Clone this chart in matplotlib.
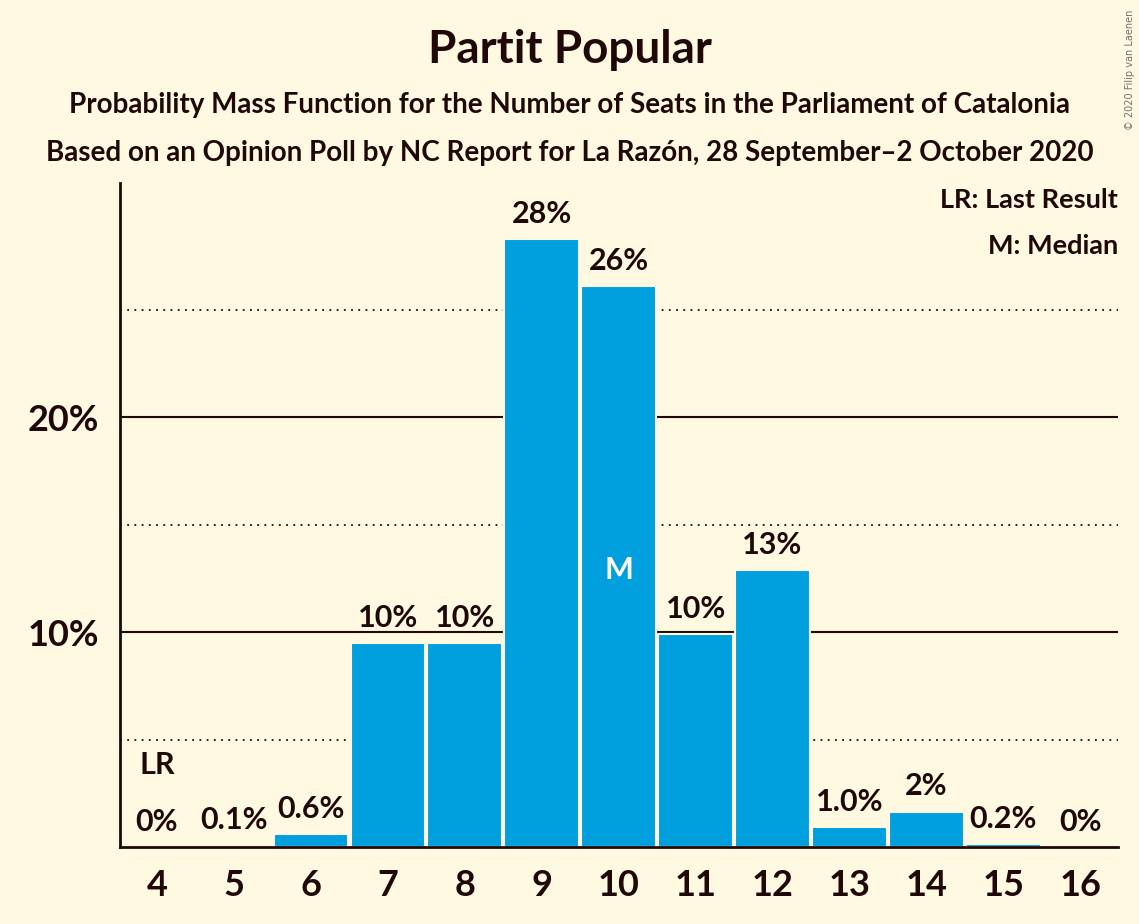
import matplotlib
matplotlib.use("Agg")
import matplotlib.pyplot as plt

seats = [4, 5, 6, 7, 8, 9, 10, 11, 12, 13, 14, 15, 16]
probs = [0.0, 0.1, 0.6, 9.5, 9.5, 28.3, 26.1, 9.9, 12.9, 0.95, 1.65, 0.15, 0.0]
labels = ["0%", "0.1%", "0.6%", "10%", "10%", "28%", "26%", "10%", "13%", "1.0%", "2%", "0.2%", "0%"]
yticks = [10, 20]
ytick_labels = ["10%", "20%"]
last_result = 4
median = 10

BG = "#FFF9E1"
BAR = "#00A0DF"
TXT = "#200808"

plt.rcParams['font.family'] = ['Lato', 'DejaVu Sans']
plt.rcParams['font.weight'] = 'bold'

fig = plt.figure(figsize=(11.39, 9.24), dpi=100, facecolor=BG)
ax = fig.add_axes([0.1054, 0.0833, 0.8762, 0.7187], facecolor=BG)

for y in [5, 15, 25]:
    ax.axhline(y, color=TXT, lw=1.3, ls=(0, (1, 3)), zorder=1)
for y in yticks:
    ax.axhline(y, color=TXT, lw=1.5, zorder=1)

ax.bar(seats, probs, width=0.97, color=BAR, edgecolor=BG, linewidth=1.5, zorder=2)

for s, p, l in zip(seats, probs, labels):
    ax.annotate(l, (s, p), xytext=(0, 8), textcoords='offset points',
                ha='center', va='bottom', fontsize=22, color=TXT, fontweight='bold')

ax.annotate("LR", (last_result, 0), xytext=(0, 49), textcoords='offset points',
            ha='center', va='bottom', fontsize=22, color=TXT, fontweight='bold')
ax.text(median, 12.9, "M", ha='center', va='center', fontsize=22, color='white', fontweight='bold', zorder=3)

ax.set_xlim(3.52, 16.49)
ax.set_ylim(0, 30.9)
ax.set_xticks(seats)
ax.set_xticklabels([str(s) for s in seats])
ax.set_yticks(yticks)
ax.set_yticklabels(ytick_labels)
ax.tick_params(axis='both', length=0, labelsize=26, colors=TXT, pad=15)
for lab in ax.get_xticklabels() + ax.get_yticklabels():
    lab.set_fontweight('bold')
ax.tick_params(axis='x', pad=16)
for side in ['top', 'right']:
    ax.spines[side].set_visible(False)
ax.spines['left'].set_color(TXT)
ax.spines['bottom'].set_color(TXT)
ax.spines['left'].set_linewidth(2)
ax.spines['bottom'].set_linewidth(2)

ax.text(1.0, 0.975, "LR: Last Result", transform=ax.transAxes, ha='right', va='center',
        fontsize=19.5, color=TXT, fontweight='bold')
ax.text(1.0, 0.905, "M: Median", transform=ax.transAxes, ha='right', va='center',
        fontsize=19.5, color=TXT, fontweight='bold')

fig.text(0.5, 0.946, "Partit Popular", ha='center', va='center', fontsize=33, color=TXT, fontweight='bold')
fig.text(0.5, 0.886, "Probability Mass Function for the Number of Seats in the Parliament of Catalonia",
         ha='center', va='center', fontsize=20, color=TXT, fontweight='bold')
fig.text(0.5, 0.834, "Based on an Opinion Poll by NC Report for La Razón, 28 September–2 October 2020",
         ha='center', va='center', fontsize=20, color=TXT, fontweight='bold')
fig.text(0.992, 0.99, "© 2020 Filip van Laenen", ha='center', va='top', rotation=90,
         fontsize=7, color='#707070', family=['DejaVu Sans'], fontweight='normal')

fig.savefig("out.png", dpi=100, facecolor=BG)
